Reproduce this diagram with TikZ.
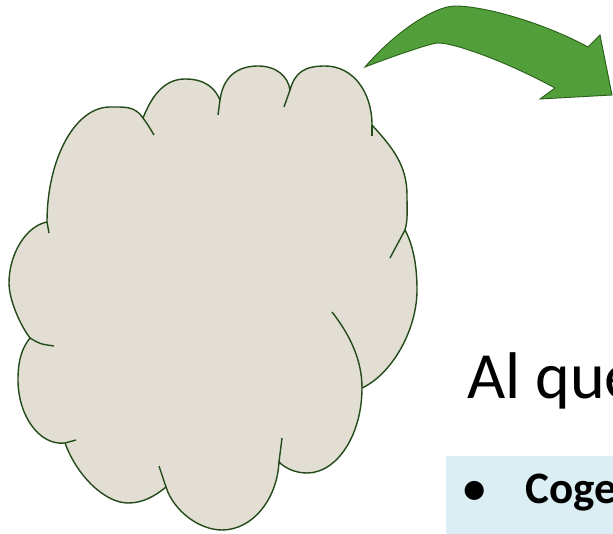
\documentclass[tikz,border=0pt]{standalone}
\usepackage{fontspec}
\setmainfont{Carlito}
\definecolor{cloudfill}{RGB}{226,222,211}
\definecolor{cloudline}{RGB}{35,75,25}
\definecolor{arrowfill}{RGB}{82,158,58}
\definecolor{arrowline}{RGB}{40,95,25}
\definecolor{boxfill}{RGB}{218,238,243}
\tikzset{
  cloudshape/.style={fill=cloudfill, draw=cloudline, line width=1.4pt, line join=round},
  cloudstub/.style={draw=cloudline, line width=1.4pt, line cap=butt},
  bigarrow/.style={fill=arrowfill, draw=arrowline, line width=0.9pt, line join=miter},
  titletext/.style={anchor=base west, inner sep=0pt, font=\fontsize{66}{66}\selectfont},
  itemtext/.style={anchor=base west, inner sep=0pt, font=\bfseries\fontsize{45}{45}\selectfont},
}
\begin{document}
\begin{tikzpicture}[x=1pt,y=-1pt]
\useasboundingbox (0,0) rectangle (613,534);
\clip (0,0) rectangle (613,534);
\fill[white] (0,0) rectangle (613,534);

% cloud junction points
\coordinate (j1) at (47,222);
\coordinate (j2) at (143,118);
\coordinate (j3) at (220,100);
\coordinate (j4) at (290,90);
\coordinate (j5) at (372,125);
\coordinate (j6) at (405,230);
\coordinate (j7) at (362,388);
\coordinate (j8) at (279,462);
\coordinate (j9) at (166,487);
\coordinate (j10) at (65,443);
\coordinate (j11) at (30,338);

\path[cloudshape] (j1)
  .. controls +(0,-63) and +(-35,0) .. (110,107)
  .. controls +(15,0) and +(-8,-12) .. (j2)
  .. controls +(8,-20) and +(-22,0) .. (185,79)
  .. controls +(20,0) and +(-5,-12) .. (j3)
  .. controls +(3,-22) and +(-22,0) .. (258,66)
  .. controls +(18,0) and +(-2,-14) .. (j4)
  .. controls +(5,-18) and +(-20,0) .. (325,66)
  .. controls +(28,0) and +(0,-33) .. (j5)
  .. controls +(20,22) and +(0,-30) .. (407,195)
  .. controls +(0,15) and +(3,-10) .. (j6)
  .. controls +(8,15) and +(0,-25) .. (417,290)
  .. controls +(0,40) and +(30,-14) .. (j7)
  .. controls +(0,47) and +(30,0) .. (307,473)
  .. controls +(-12,0) and +(6,6) .. (j8)
  .. controls +(-2,38) and +(30,0) .. (222,530)
  .. controls +(-23,0) and +(7.5,23.7) .. (j9)
  .. controls +(-12,10) and +(14,0) .. (128,503)
  .. controls +(-23,0) and +(12,33) .. (j10)
  .. controls +(-26,3) and +(0,35) .. (18,380)
  .. controls +(0,-20) and +(-8,10) .. (j11)
  .. controls +(-11.6,-15.5) and +(0,15) .. (9,283)
  .. controls +(0,-29) and +(-21,4) .. (j1) -- cycle;

% interior stubs
\draw[cloudstub] (j1) -- (49,233);
\draw[cloudstub] (j2) .. controls (148,125) .. (154,135);
\draw[cloudstub] (j3) -- (218,115);
\draw[cloudstub] (j4) -- (284,107);
\draw[cloudstub] (j5) -- (372,136);
\draw[cloudstub] (j6) -- (390,258);
\draw[cloudstub] (332,312) .. controls (350,335) and (362,360) .. (j7);
\draw[cloudstub] (j8) -- (282,438);
\draw[cloudstub] (j9) -- (159,466);
\draw[cloudstub] (j10) -- (76,440);
\draw[cloudstub] (j11) .. controls (40,344) .. (54,346);

% green curved arrow
\coordinate (tail) at (365,67);
\coordinate (ub) at (588,47);
\coordinate (ob) at (600,35);
\coordinate (tip) at (612,95);
\coordinate (ib) at (540,99);
\coordinate (lb) at (555,88);
\path[bigarrow] (tail)
  .. controls (394,33) and (434,6) .. (455,6)
  .. controls (486,6) and (546,24) .. (ub)
  -- (ob) -- (tip) -- (ib) -- (lb)
  .. controls (509,63) and (456,43) .. (438,43)
  .. controls (432,43) and (399,54) .. (tail) -- cycle;

% title text
\node[titletext] (title) at (467,399) {Al que};

% bullet box
\fill[boxfill] (446,456) rectangle (700,600);
\node[anchor=base, inner sep=0pt, font=\bfseries\fontsize{45}{45}\selectfont] (bullet) at (474.5,503) {•};
\node[itemtext] (item) at (525,503) {Coge};
\end{tikzpicture}
\end{document}
